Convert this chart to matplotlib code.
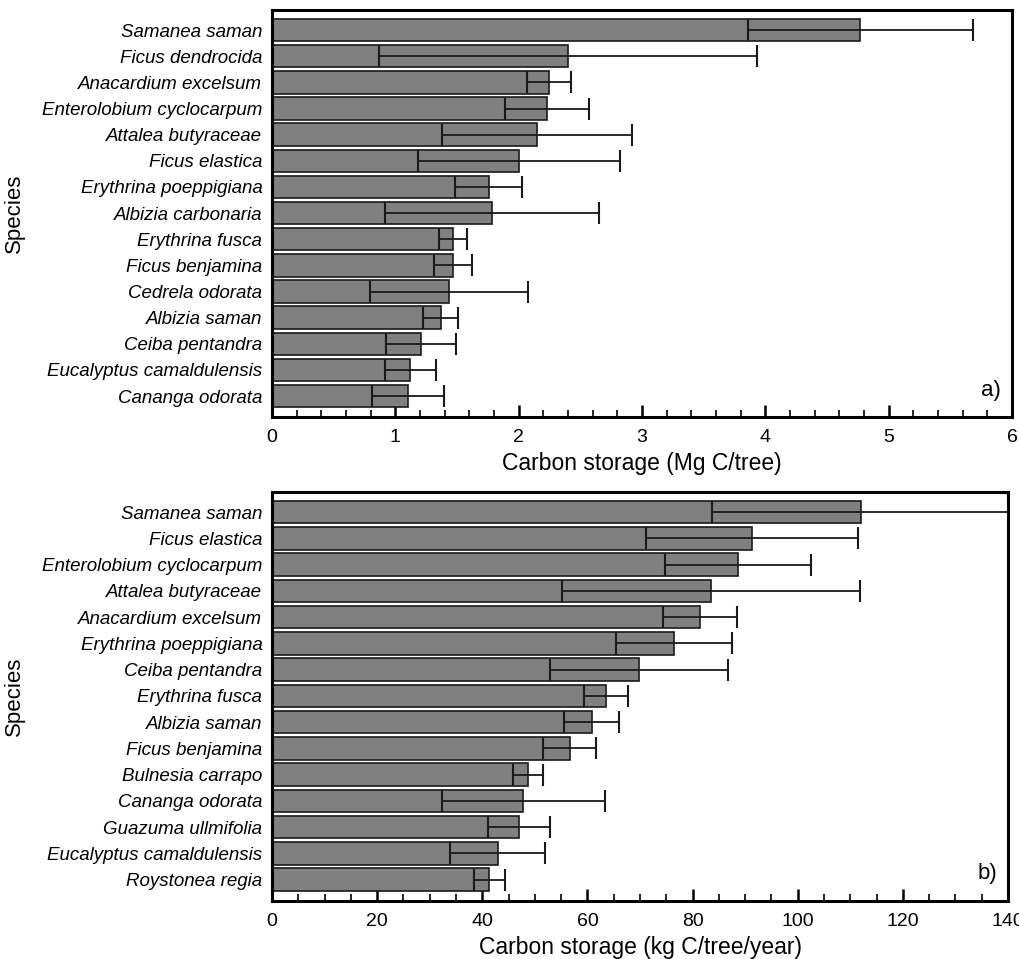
import numpy as np
import matplotlib
matplotlib.use('Agg')
import matplotlib.pyplot as plt
from matplotlib.ticker import MultipleLocator

plt.rcParams['font.family'] = ['Liberation Sans', 'DejaVu Sans']

# panel a) carbon storage, Mg C/tree
species_a = ['Samanea saman', 'Ficus dendrocida', 'Anacardium excelsum',
             'Enterolobium cyclocarpum', 'Attalea butyraceae', 'Ficus elastica',
             'Erythrina poeppigiana', 'Albizia carbonaria', 'Erythrina fusca',
             'Ficus benjamina', 'Cedrela odorata', 'Albizia saman',
             'Ceiba pentandra', 'Eucalyptus camaldulensis', 'Cananga odorata']
mean_a = [4.77, 2.40, 2.245, 2.23, 2.15, 2.00, 1.757, 1.785, 1.467,
          1.464, 1.435, 1.367, 1.208, 1.122, 1.103]
sd_a = [0.91, 1.535, 0.175, 0.34, 0.77, 0.82, 0.27, 0.87, 0.112,
        0.154, 0.64, 0.14, 0.28, 0.21, 0.29]

# panel b) carbon storage, kg C/tree/year
species_b = ['Samanea saman', 'Ficus elastica', 'Enterolobium cyclocarpum',
             'Attalea butyraceae', 'Anacardium excelsum', 'Erythrina poeppigiana',
             'Ceiba pentandra', 'Erythrina fusca', 'Albizia saman',
             'Ficus benjamina', 'Bulnesia carrapo', 'Cananga odorata',
             'Guazuma ullmifolia', 'Eucalyptus camaldulensis', 'Roystonea regia']
mean_b = [112.0, 91.3, 88.6, 83.5, 81.4, 76.5, 69.8, 63.6, 60.8,
          56.6, 48.65, 47.8, 46.9, 42.9, 41.35]
sd_b = [28.4, 20.1, 13.85, 28.3, 7.05, 11.05, 17.0, 4.2, 5.25,
        5.05, 2.8, 15.55, 5.9, 9.05, 2.95]


def draw_panel(ax, names, means, sds, xmax, major, minor, xlabel, tag):
    pos = np.arange(len(names))
    ax.barh(pos, means, height=0.86, color='#808080', edgecolor='#1a1a1a',
            linewidth=1.2, zorder=2)
    ax.errorbar(means, pos, xerr=sds, fmt='none', ecolor='#1a1a1a',
                elinewidth=1.3, capsize=8.2, capthick=1.5, zorder=3)
    ax.set_yticks(pos)
    ax.set_yticklabels(names, style='italic', fontsize=13.5)
    ax.set_ylim(14.8, -0.77)
    ax.set_xlim(0, xmax)
    ax.xaxis.set_major_locator(MultipleLocator(major))
    ax.xaxis.set_minor_locator(MultipleLocator(minor))
    ax.tick_params(axis='x', which='major', direction='in', length=9,
                   width=1.8, labelsize=14, pad=9)
    ax.tick_params(axis='x', which='minor', direction='in', length=5, width=1.2)
    ax.tick_params(axis='y', length=0, pad=7)
    for s in ax.spines.values():
        s.set_linewidth(2.2)
    ax.set_xlabel(xlabel, fontsize=16.5, labelpad=4)
    ax.set_ylabel('Species', fontsize=16, labelpad=12)
    ax.text(0.985, 0.04, tag, transform=ax.transAxes, ha='right', va='bottom',
            fontsize=16)


fig = plt.figure(figsize=(10.2, 9.59), dpi=100)
ax1 = fig.add_axes([0.2667, 0.5652, 0.7255, 0.4244])
ax2 = fig.add_axes([0.2667, 0.0608, 0.7216, 0.4262])

draw_panel(ax1, species_a, mean_a, sd_a, 6, 1, 0.2,
           'Carbon storage (Mg C/tree)', 'a)')
draw_panel(ax2, species_b, mean_b, sd_b, 140, 20, 5,
           'Carbon storage (kg C/tree/year)', 'b)')

fig.savefig('out.png', dpi=100)
